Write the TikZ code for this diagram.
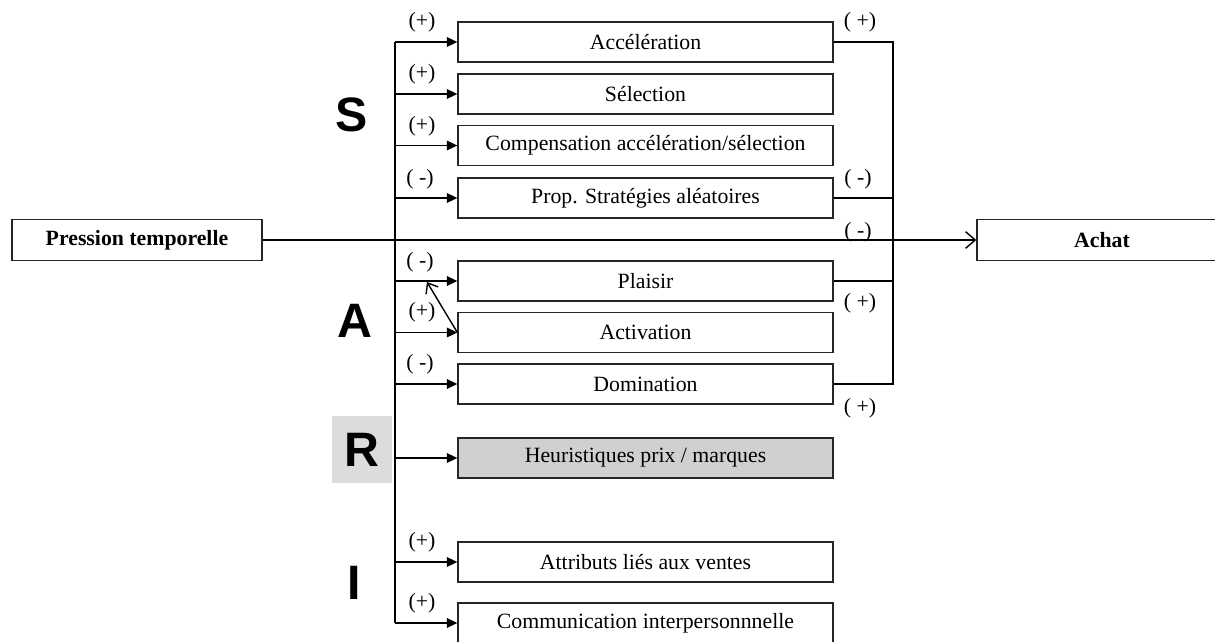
\documentclass[tikz,border=0pt]{standalone}
\usepackage{fontspec}
\setmainfont{Liberation Serif}
\newfontfamily\letterfont{Liberation Sans}
\usetikzlibrary{arrows.meta}
\definecolor{boxgray}{HTML}{D0D0D0}
\definecolor{rgray}{HTML}{DCDCDC}
\begin{document}
\begin{tikzpicture}[x=0.02cm,y=-0.02cm,
  box/.style={draw=black!85, line width=0.8pt, minimum width=7.5cm, minimum height=0.8cm, inner sep=0pt, font=\fontsize{12.4}{14}\selectfont},
  sidebox/.style={box, minimum width=5cm, minimum height=0.82cm, font=\fontsize{12.4}{14}\selectfont\bfseries},
  lab/.style={font=\fontsize{12.4}{14}\selectfont, inner sep=0pt},
  big/.style={font=\letterfont\bfseries\fontsize{27.5}{30}\selectfont, inner sep=0pt},
  conn/.style={line width=0.8pt},
  arr/.style={conn, -{Triangle[length=6pt,width=5.5pt]}},
  oarr/.style={conn, -{Straight Barb[length=5.5pt,width=9.5pt]}},
  darr/.style={conn, -{Straight Barb[length=5pt,width=8pt]}}]
\useasboundingbox (0,0) rectangle (1215,642);
\clip (0,0) rectangle (1215,642);

% R background
\fill[rgray] (332,416) rectangle (392,483);

% boxes
\node[box] (acc)  at (645.5,42)    {Accélération};
\node[box] (sel)  at (645.5,94)    {Sélection};
\node[box] (comp) at (645.5,145.5) {Compensation accélération/sélection};
\node[box] (prop) at (645.5,198)   {Prop. Stratégies aléatoires};
\node[box] (plai) at (645.5,281)   {Plaisir};
\node[box] (act)  at (645.5,332.5) {Activation};
\node[box] (dom)  at (645.5,384)   {Domination};
\node[box, fill=boxgray] (heur) at (645.5,458) {Heuristiques prix / marques};
\node[box] (attr) at (645.5,562)   {Attributs liés aux ventes};
\node[box] (comm) at (645.5,623)   {Communication interpersonnnelle};

\node[sidebox] (press) at (137,240)  {Pression temporelle};
\node[sidebox] (achat) at (1102,240) {Achat};

% letters
\node[big] (lS) at (352,115) {S};
\node[big] (lA) at (355,321) {A};
\node[big] (lR) at (362,450) {R};
\node[big] (lI) at (354,583) {I};

% spines
\coordinate (ls) at (395,0);
\coordinate (rs) at (893,0);
\draw[conn] (acc.west -| ls) -- (comm.west -| ls);
\foreach \n in {acc,sel,comp,prop,plai,act,dom,heur,attr,comm}
  \draw[arr] (\n.west -| ls) -- (\n.west);

\draw[conn] (acc.east) -- (acc.east -| rs) -- (dom.east -| rs) -- (dom.east);
\draw[conn] (prop.east) -- (prop.east -| rs);
\draw[conn] (plai.east) -- (plai.east -| rs);

% main line
\draw[oarr] (press.east) -- (achat.west);

% diagonal
\coordinate (dg) at (427,282);
\draw[darr] (act.west) -- (dg);

% left labels
\node[lab] (l1) at (422,22)  {(+)};
\node[lab] (l2) at (422,74)  {(+)};
\node[lab] (l3) at (422,126) {(+)};
\node[lab] (l4) at (420,179) {( -)};
\node[lab] (l5) at (420,262) {( -)};
\node[lab] (l6) at (422,312) {(+)};
\node[lab] (l7) at (420,364) {( -)};
\node[lab] (l8) at (422,542) {(+)};
\node[lab] (l9) at (422,603) {(+)};

% right labels
\node[lab] (r1) at (860,22)  {( +)};
\node[lab] (r2) at (858,179) {( -)};
\node[lab] (r3) at (858,232) {( -)};
\node[lab] (r4) at (860,303) {( +)};
\node[lab] (r5) at (860,408) {( +)};
\end{tikzpicture}
\end{document}
